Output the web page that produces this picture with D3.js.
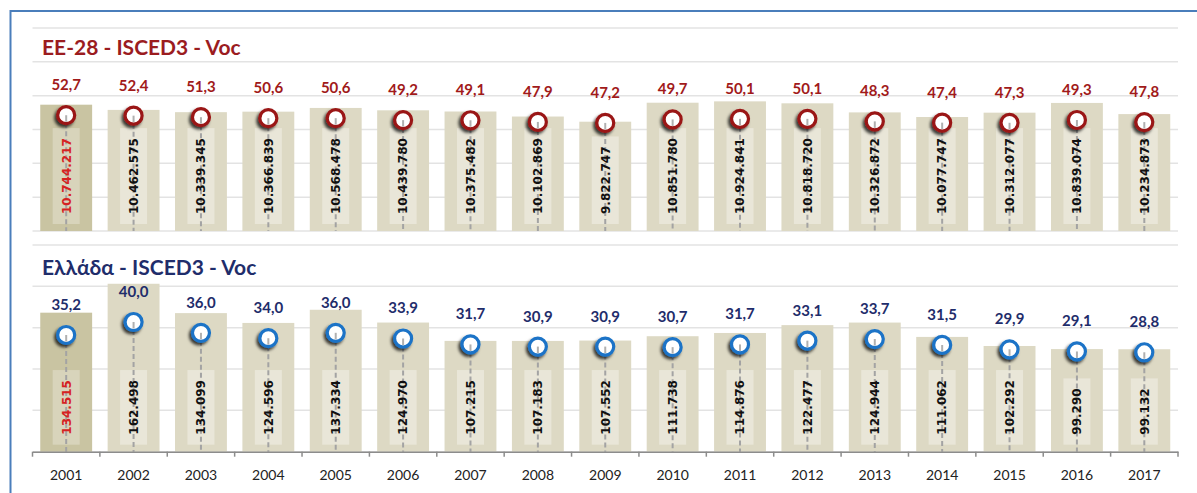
<!DOCTYPE html>
<html>
<head>
<meta charset="utf-8">
<script src="https://cdn.jsdelivr.net/npm/d3@7"></script>
<style>
  body { margin: 0; background: #fff; }
  svg { display: block; }
</style>
</head>
<body>
<div id="chart"></div>
<script>
var years = ["2001","2002","2003","2004","2005","2006","2007","2008","2009","2010","2011","2012","2013","2014","2015","2016","2017"];

var euCounts = [10744217, 10462575, 10339345, 10366839, 10568478, 10439780, 10375482, 10102869, 9822747,
                10851780, 10924841, 10818720, 10326872, 10077747, 10312077, 10839074, 10234873];
var euPct = [52.7, 52.4, 51.3, 50.6, 50.6, 49.2, 49.1, 47.9, 47.2, 49.7, 50.1, 50.1, 48.3, 47.4, 47.3, 49.3, 47.8];

var grCounts = [134515, 162498, 134099, 124596, 137334, 124970, 107215, 107183, 107552,
                111738, 114876, 122477, 124944, 111062, 102292, 99290, 99132];
var grPct = [35.2, 40.0, 36.0, 34.0, 36.0, 33.9, 31.7, 30.9, 30.9, 30.7, 31.7, 33.1, 33.7, 31.5, 29.9, 29.1, 28.8];

var W = 1197, H = 493;

var svg = d3.select("#chart").append("svg")
  .attr("width", W)
  .attr("height", H);

var defs = svg.append("defs");
defs.append("filter")
  .attr("id", "shadow")
  .attr("x", "-50%").attr("y", "-50%").attr("width", "200%").attr("height", "200%")
  .append("feDropShadow")
  .attr("dx", -2).attr("dy", 2.5)
  .attr("stdDeviation", 1.8)
  .attr("flood-color", "#000")
  .attr("flood-opacity", 0.75);

// outer frame
svg.append("rect")
  .attr("x", 10.5).attr("y", 11)
  .attr("width", W + 20).attr("height", H + 20)
  .attr("fill", "none")
  .attr("stroke", "#4a7ebb")
  .attr("stroke-width", 2);

var x = d3.scaleBand()
  .domain(years)
  .range([32.5, 1178])
  .paddingInner(0.23)
  .paddingOuter(0.115);

function fmt(n) {
  return d3.format(",")(n).replace(/,/g, ".");
}
function fmtPct(v) {
  return v.toFixed(1).replace(".", ",");
}
function cx(i) {
  return x(years[i]) + x.bandwidth() / 2;
}

var panels = [
  {
    title: "EE-28 - ISCED3 - Voc", titleY: 55, titleColor: "#9b1c1f",
    top: 28, base: 231,
    counts: euCounts, pct: euPct,
    barDomain: [3.9e6, 14.9e6], pctDomain: [-30, 115],
    ring: "#9a1414", pctColor: "#a11a1a",
    axis: false
  },
  {
    title: "Ελλάδα - ISCED3 - Voc", titleY: 275, titleColor: "#1f2d6b",
    top: 245, base: 451.7,
    counts: grCounts, pct: grPct,
    barDomain: [0, 200000], pctDomain: [-8, 68.5],
    ring: "#1a73c7", pctColor: "#1f2d6b",
    axis: true
  }
];

panels.forEach(function(p) {
  var g = svg.append("g");

  var yBar = d3.scaleLinear().domain(p.barDomain).range([p.base, p.top]);
  var yPct = d3.scaleLinear().domain(p.pctDomain).range([p.base, p.top]);

  // gridlines
  var nGrid = p.axis ? 5 : 6;
  var gridVals = d3.range(nGrid + 1).map(function(i) {
    return p.barDomain[0] + i * (p.barDomain[1] - p.barDomain[0]) / nGrid;
  });
  g.selectAll(".grid")
    .data(gridVals)
    .enter().append("line")
    .attr("x1", x.range()[0]).attr("x2", x.range()[1])
    .attr("y1", function(d) { return yBar(d); })
    .attr("y2", function(d) { return yBar(d); })
    .attr("stroke", "#e3e3e3")
    .attr("stroke-width", 1.5);

  // title
  g.append("text")
    .attr("x", 42).attr("y", p.titleY)
    .attr("font-family", "Lato, sans-serif")
    .attr("font-weight", "bold")
    .attr("font-size", 21)
    .attr("fill", p.titleColor)
    .text(p.title);

  // bars
  g.selectAll(".bar")
    .data(p.counts)
    .enter().append("rect")
    .attr("x", function(d, i) { return x(years[i]); })
    .attr("width", x.bandwidth())
    .attr("y", function(d) { return yBar(d); })
    .attr("height", function(d) { return p.base - yBar(d); })
    .attr("fill", function(d, i) { return i == 0 ? "#c9c4a2" : "#ddd9c4"; });

  // count label boxes + text (inside base)
  var boxG = g.append("g");
  var dropG = g.append("g");
  var lab = g.selectAll(".lab")
    .data(p.counts)
    .enter().append("g")
    .attr("transform", function(d, i) {
      return "translate(" + cx(i) + "," + (p.base - 17) + ") rotate(-90)";
    });
  var txt = lab.append("text")
    .attr("x", 0).attr("y", 0)
    .attr("dy", "0.36em")
    .attr("font-family", "'DejaVu Sans', sans-serif")
    .attr("font-weight", "bold")
    .attr("font-size", 12)
    .attr("fill", function(d, i) { return i == 0 ? "#d62222" : "#111"; })
    .text(function(d) { return fmt(d); });
  txt.each(function(d, i) {
    var len = this.getComputedTextLength();
    boxG.append("rect")
      .attr("x", cx(i) - 13.5)
      .attr("y", p.base - 17 - len - 10)
      .attr("width", 27)
      .attr("height", len + 20)
      .attr("fill", i == 0 ? "#d8d4bb" : "#e9e6d8");
  });

  // drop lines (under the text)
  dropG.selectAll("line")
    .data(p.pct)
    .enter().append("line")
    .attr("x1", function(d, i) { return cx(i); })
    .attr("x2", function(d, i) { return cx(i); })
    .attr("y1", function(d) { return yPct(d); })
    .attr("y2", p.base)
    .attr("stroke", "#a3a3a3")
    .attr("stroke-width", 2)
    .attr("stroke-dasharray", "5,3");

  // circles
  g.selectAll(".dot")
    .data(p.pct)
    .enter().append("circle")
    .attr("cx", function(d, i) { return cx(i); })
    .attr("cy", function(d) { return yPct(d); })
    .attr("r", 8.5)
    .attr("fill", "#fff")
    .attr("stroke", p.ring)
    .attr("stroke-width", 3.2)
    .attr("filter", "url(#shadow)");

  // short stub of the drop line inside each circle
  g.selectAll(".stub")
    .data(p.pct)
    .enter().append("line")
    .attr("x1", function(d, i) { return cx(i); })
    .attr("x2", function(d, i) { return cx(i); })
    .attr("y1", function(d) { return yPct(d); })
    .attr("y2", function(d) { return yPct(d) + 6.5; })
    .attr("stroke", "#b0b0b0")
    .attr("stroke-width", 2);

  // percentage labels
  g.selectAll(".pct")
    .data(p.pct)
    .enter().append("text")
    .attr("x", function(d, i) { return cx(i); })
    .attr("y", function(d) { return yPct(d) - 25; })
    .attr("text-anchor", "middle")
    .attr("font-family", "Lato, sans-serif")
    .attr("font-weight", "bold")
    .attr("font-size", 15)
    .attr("fill", p.pctColor)
    .text(function(d) { return fmtPct(d); });

  if (p.axis) {
    var ax = g.append("g")
      .attr("transform", "translate(0," + p.base + ")")
      .call(d3.axisBottom(x).tickSize(0).tickPadding(18));
    ax.select(".domain").attr("stroke", "#8c8c8c").attr("stroke-width", 1.5);
    ax.selectAll("text")
      .attr("font-family", "Lato, sans-serif")
      .attr("font-size", 14)
      .attr("fill", "#222");
    ax.selectAll(".btick")
      .data(d3.range(years.length + 1))
      .enter().append("line")
      .attr("x1", function(i) { return x.range()[0] + i * x.step(); })
      .attr("x2", function(i) { return x.range()[0] + i * x.step(); })
      .attr("y1", 0).attr("y2", 5)
      .attr("stroke", "#8c8c8c")
      .attr("stroke-width", 1.5);
  }
});
</script>
</body>
</html>
